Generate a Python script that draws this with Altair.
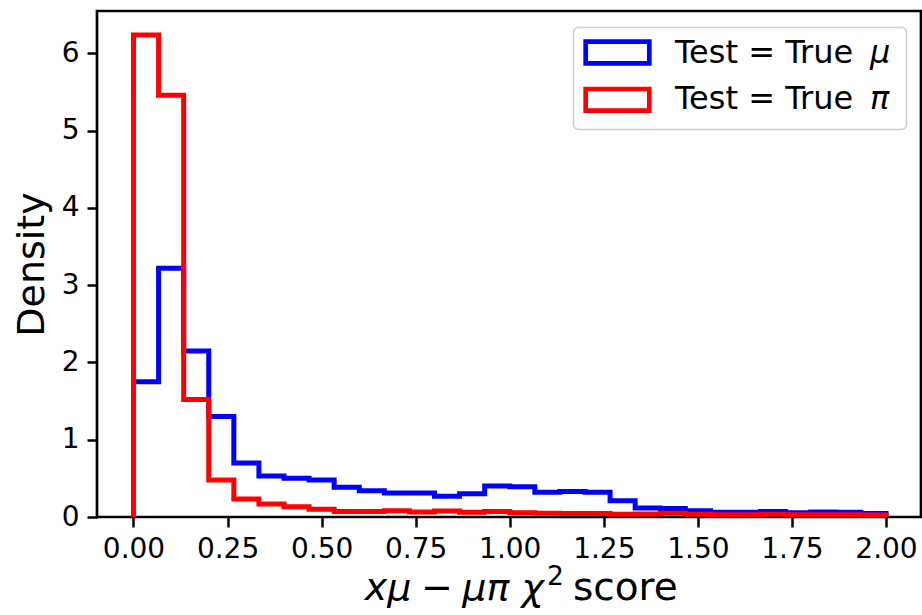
import altair as alt
import pandas as pd

# Histogram binning: 30 equal bins over [0, 2]
X_MIN, X_MAX, N_BINS = 0.0, 2.0, 30

# Normalised bin heights (density) per test sample
mu_density = [1.75, 3.22, 2.15, 1.30, 0.70, 0.53, 0.50, 0.48, 0.385, 0.34,
              0.31, 0.31, 0.27, 0.30, 0.40, 0.39, 0.32, 0.33, 0.32, 0.21,
              0.115, 0.11, 0.08, 0.06, 0.06, 0.07, 0.055, 0.065, 0.06, 0.045]
pi_density = [6.24, 5.46, 1.52, 0.48, 0.233, 0.168, 0.133, 0.10, 0.07, 0.07,
              0.08, 0.065, 0.078, 0.06, 0.07, 0.055, 0.05, 0.045, 0.045, 0.035,
              0.04, 0.05, 0.035, 0.03, 0.03, 0.035, 0.03, 0.03, 0.03, 0.025]

series_names = ["Test = True μ", "Test = True π"]
legend_prefix = "Test = True"
legend_symbols = ["μ", "π"]
series_colors = ["#0000ff", "#ff0000"]

x_ticks = [0.0, 0.25, 0.5, 0.75, 1.0, 1.25, 1.5, 1.75, 2.0]
y_ticks = [0, 1, 2, 3, 4, 5, 6]

FONT = "DejaVu Sans"
W, H = 824, 506


def step_outline(values, name):
    """Outline of a step histogram: up from the baseline, across every bin, back down."""
    width = (X_MAX - X_MIN) / N_BINS
    xs, ys = [X_MIN], [0.0]
    for i, v in enumerate(values):
        lo = X_MIN + i * width
        xs += [lo, lo + width]
        ys += [v, v]
    xs.append(X_MAX)
    ys.append(0.0)
    return pd.DataFrame({"score": xs, "density": ys,
                         "order": list(range(len(xs))), "series": name})


x_enc = alt.X(
    "score:Q",
    scale=alt.Scale(domain=[-0.097, 2.093], nice=False, zero=False),
    axis=alt.Axis(values=x_ticks, format=".2f", grid=False, domain=False,
                  tickSize=10, tickWidth=2.5, tickColor="black",
                  labelFontSize=28, labelFont=FONT, labelColor="black",
                  labelPadding=8, labelFlush=False, labelOverlap=False),
    title=None,
)
y_enc = alt.Y(
    "density:Q",
    scale=alt.Scale(domain=[0, 6.55], nice=False),
    axis=alt.Axis(values=y_ticks, grid=False, domain=False,
                  tickSize=10, tickWidth=2.5, tickColor="black",
                  labelFontSize=28, labelFont=FONT, labelColor="black",
                  labelPadding=8,
                  title="Density", titleFontSize=38, titleFont=FONT,
                  titleFontWeight="normal", titleColor="black",
                  titleAngle=270, titleX=-54, titleY=H / 2,
                  titleBaseline="alphabetic", titleAlign="center"),
)
color_enc = alt.Color("series:N",
                      scale=alt.Scale(domain=series_names, range=series_colors),
                      legend=None)


def hist_layer(values, name):
    return alt.Chart(step_outline(values, name)).mark_line(
        strokeWidth=5, strokeJoin="miter", strokeCap="butt"
    ).encode(x=x_enc, y=y_enc, color=color_enc, order="order:Q")


one = pd.DataFrame({"k": [0]})

# x-axis title: math part in italics (narrow spaces round the minus),
# superscript 2, then the plain word
xtitle_math = alt.Chart(one).mark_text(
    text="xμ\u2005−\u2005μπ χ", font=FONT, fontSize=38, fontStyle="italic",
    align="right", baseline="alphabetic", color="black"
).encode(x=alt.value(447), y=alt.value(589))
xtitle_sup = alt.Chart(one).mark_text(
    text="2", font=FONT, fontSize=26.5, align="left",
    baseline="alphabetic", color="black"
).encode(x=alt.value(450), y=alt.value(574))
xtitle_word = alt.Chart(one).mark_text(
    text="score", font=FONT, fontSize=39, align="left",
    baseline="alphabetic", color="black"
).encode(x=alt.value(476), y=alt.value(589))

# Legend box
legend_frame = alt.Chart(one).mark_rect(
    fill="white", fillOpacity=0.8, stroke="#cccccc", strokeWidth=1.5,
    cornerRadius=5
).encode(x=alt.value(476.5), x2=alt.value(809.5),
         y=alt.value(16.5), y2=alt.value(118.5))

legend_layers = [legend_frame]
row_patch_top = [30.7, 78.0]
row_baseline = [51.7, 98.3]
for i in range(2):
    legend_layers.append(
        alt.Chart(one).mark_rect(
            fill="white", stroke=series_colors[i], strokeWidth=4.7,
            strokeJoin="miter"
        ).encode(x=alt.value(488.7), x2=alt.value(552.3),
                 y=alt.value(row_patch_top[i]),
                 y2=alt.value(row_patch_top[i] + 21.6))
    )
    legend_layers.append(
        alt.Chart(one).mark_text(
            text=legend_prefix, font=FONT, fontSize=32, align="left",
            baseline="alphabetic", color="black"
        ).encode(x=alt.value(578), y=alt.value(row_baseline[i]))
    )
    legend_layers.append(
        alt.Chart(one).mark_text(
            text=legend_symbols[i], font=FONT, fontSize=32, fontStyle="italic",
            align="left", baseline="alphabetic", color="black"
        ).encode(x=alt.value(773), y=alt.value(row_baseline[i]))
    )

chart = alt.layer(
    hist_layer(mu_density, series_names[0]),
    hist_layer(pi_density, series_names[1]),
    xtitle_math, xtitle_sup, xtitle_word,
    *legend_layers,
).properties(
    width=W, height=H,
    padding={"left": 97, "top": 11, "right": 1, "bottom": 98},
    autosize=alt.AutoSizeParams(type="none"),
    background="white",
).configure_view(
    stroke="black", strokeWidth=2.7
)

chart.save("out.html", embed_options={"renderer": "svg", "actions": False})
